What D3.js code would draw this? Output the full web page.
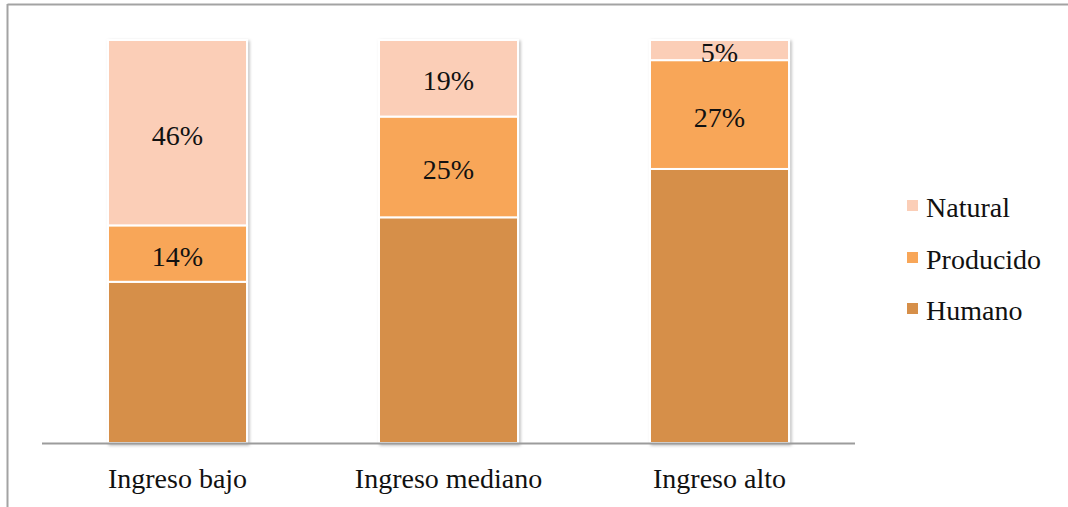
<!DOCTYPE html>
<html>
<head>
<meta charset="utf-8">
<script src="https://cdn.jsdelivr.net/npm/d3@7"></script>
<style>
  html, body { margin: 0; padding: 0; background: #fff; }
  svg { display: block; }
  text { font-family: "Liberation Serif", "DejaVu Serif", serif; fill: #111; }
</style>
</head>
<body>
<svg id="chart" width="1068" height="507"></svg>
<script>
// Composición de la riqueza por nivel de ingreso (%)
const categories = ["Ingreso bajo", "Ingreso mediano", "Ingreso alto"];
const seriesNames = ["Humano", "Producido", "Natural"];
const humano    = [40, 56, 68];
const producido = [14, 25, 27];
const natural   = [46, 19, 5];
const yTicks = [0, 100];

const colors = {
  Humano: "#D68F49",
  Producido: "#F8A658",
  Natural: "#FBCEB7"
};

const FONT_SIZE = "28px";

const svg = d3.select("#chart");

// Outer frame (top and left edges)
svg.append("line").attr("x1", 7.5).attr("x2", 1068).attr("y1", 4.5).attr("y2", 4.5)
  .attr("stroke", "#a3a3a3").attr("stroke-width", 2);
svg.append("line").attr("x1", 7.5).attr("x2", 7.5).attr("y1", 4).attr("y2", 507)
  .attr("stroke", "#a3a3a3").attr("stroke-width", 2);

// Soft shadow under the bars
const defs = svg.append("defs");
const f = defs.append("filter").attr("id", "shadow")
  .attr("x", "-10%").attr("y", "-10%").attr("width", "130%").attr("height", "130%");
f.append("feDropShadow").attr("dx", 1.5).attr("dy", 1.5).attr("stdDeviation", 1.6)
  .attr("flood-color", "#000").attr("flood-opacity", 0.28);

const x = d3.scaleBand().domain(categories).range([42, 855])
  .paddingInner(0.487).paddingOuter(0.2435);
const y = d3.scaleLinear().domain([yTicks[0], yTicks[1]]).range([443, 40]);

const rows = categories.map((c, i) => ({
  cat: c, Humano: humano[i], Producido: producido[i], Natural: natural[i]
}));
const stack = d3.stack().keys(seriesNames)(rows);

const gBars = svg.append("g").attr("filter", "url(#shadow)");
stack.forEach(layer => {
  gBars.selectAll(null).data(layer).enter().append("rect")
    .attr("x", d => x(d.data.cat))
    .attr("width", x.bandwidth())
    .attr("y", d => y(d[1]))
    .attr("height", d => y(d[0]) - y(d[1]))
    .attr("fill", colors[layer.key])
    .attr("stroke", "#fff")
    .attr("stroke-width", 2);
});

// Value labels for Producido and Natural
stack.filter(l => l.key !== "Humano").forEach(layer => {
  svg.selectAll(null).data(layer).enter().append("text")
    .attr("x", d => x(d.data.cat) + x.bandwidth() / 2)
    .attr("y", d => (y(d[0]) + y(d[1])) / 2 + 12)
    .attr("text-anchor", "middle")
    .style("font-size", FONT_SIZE)
    .text(d => (d[1] - d[0]) + "%");
});

// Category axis
const axis = svg.append("g").attr("transform", "translate(0,443.5)")
  .call(d3.axisBottom(x).tickSize(0).tickPadding(0));
axis.select(".domain").attr("stroke", "#9c9c9c").attr("stroke-width", 2)
  .attr("d", "M42,0H855");
axis.selectAll(".tick text")
  .attr("y", 44.5).attr("dy", 0)
  .style("font-family", "\"Liberation Serif\", serif")
  .style("font-size", FONT_SIZE).attr("fill", "#111");

// Legend
const legendItems = ["Natural", "Producido", "Humano"];
const legendBase = [217, 269, 320];
const lg = svg.append("g");
legendItems.forEach((name, i) => {
  lg.append("rect").attr("x", 907).attr("y", legendBase[i] - 17)
    .attr("width", 11).attr("height", 11).attr("fill", colors[name]);
  lg.append("text").attr("x", 926).attr("y", legendBase[i])
    .style("font-size", FONT_SIZE).text(name);
});
</script>
</body>
</html>
